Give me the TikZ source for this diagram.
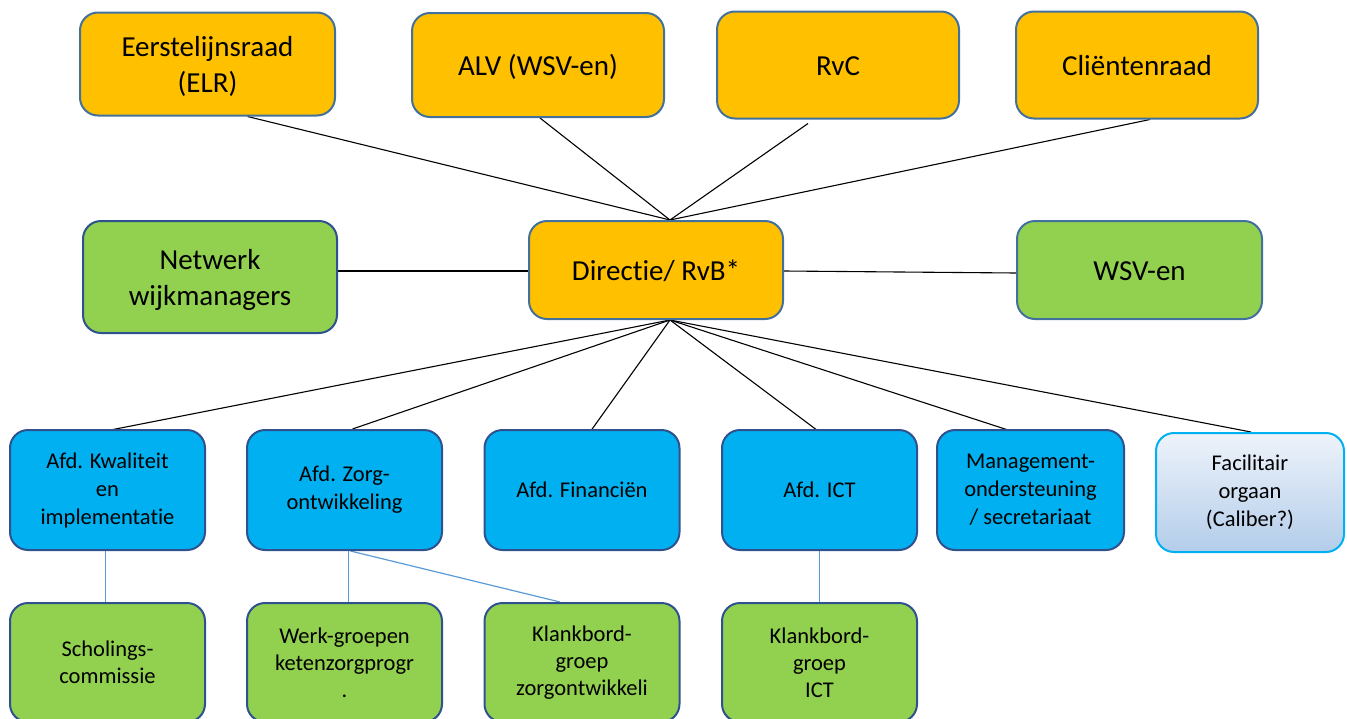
\documentclass[tikz,border=0pt]{standalone}
\usepackage{fontspec}
\setmainfont{Carlito}[Ligatures=NoCommon]
\usetikzlibrary{calc,backgrounds}
\definecolor{orangefill}{HTML}{FFC000}
\definecolor{greenfill}{HTML}{92D050}
\definecolor{bluefill}{HTML}{00B0F0}
\definecolor{edgeA}{HTML}{41719C}
\definecolor{edgeB}{HTML}{2F528F}
\definecolor{edgeC}{HTML}{00B0F0}
\definecolor{fadetop}{HTML}{EEF3FA}
\definecolor{fadebot}{HTML}{B3CDEA}
\definecolor{sublink}{HTML}{5B9BD5}
\newcommand\lowertext[1]{\raisebox{-3pt}[\height][\depth]{\begin{tabular}{@{}c@{}}#1\end{tabular}}}
\tikzset{
  box/.style={rectangle, rounded corners=18pt, line width=2pt, inner sep=0pt, align=center, text=black},
  bigtext/.style={font=\fontsize{29}{36}\selectfont},
  smalltext/.style={font=\fontsize{22.5}{28}\selectfont},
  subtext/.style={font=\fontsize{22.5}{27}\selectfont},
  topbox/.style={box, bigtext, fill=orangefill, draw=edgeA},
  midgreen/.style={box, bigtext, fill=greenfill, draw=edgeB},
  deptbox/.style={box, smalltext, fill=bluefill, draw=edgeB, minimum width=195pt, minimum height=120pt},
  facbox/.style={box, smalltext, draw=edgeC, top color=fadetop, bottom color=fadebot, minimum width=188pt, minimum height=119pt},
  subbox/.style={box, subtext, fill=greenfill, draw=edgeB, minimum width=195pt, minimum height=119pt},
  link/.style={draw=black, line width=1.1pt},
  sublinkstyle/.style={draw=sublink, line width=1.2pt}
}
\begin{document}
\begin{tikzpicture}[x=1pt, y=-1pt]
\useasboundingbox (0,0) rectangle (1347,718);
% top row
\node[topbox, minimum width=255pt, minimum height=103pt] (elr) at (207.5,64) {\lowertext{Eerstelijnsraad\\(ELR)}};
\node[topbox, minimum width=252pt, minimum height=104pt] (alv) at (538,65) {\lowertext{ALV (WSV-en)}};
\node[topbox, minimum width=242pt, minimum height=107pt] (rvc) at (838,65) {\lowertext{RvC}};
\node[topbox, minimum width=242pt, minimum height=107pt] (clr) at (1137,65) {\lowertext{Cliëntenraad}};
% middle row
\node[midgreen, minimum width=254pt, minimum height=112pt] (nwm) at (210,277) {\lowertext{Netwerk\\wijkmanagers}};
\node[topbox, minimum width=254pt, minimum height=98pt] (dir) at (656,270) {\lowertext{Directie/ RvB*}};
\node[box, bigtext, fill=greenfill, draw=edgeA, minimum width=245pt, minimum height=98pt] (wsv) at (1139.5,270) {\lowertext{WSV-en}};
% department row
\node[deptbox] (kwa) at (107.5,490) {Afd. Kwaliteit\\en\\implementatie};
\node[deptbox] (zorg) at (344.5,490) {Afd. Zorg-\\ontwikkeling};
\node[deptbox] (fin) at (582,490) {Afd. Financiën};
\node[deptbox] (ict) at (819.5,490) {Afd. ICT};
\node[deptbox, minimum width=187pt] (mgt) at (1030.5,490) {Management-\\ondersteuning\\/ secretariaat};
\node[facbox] (fac) at (1250,492.5) {Facilitair\\orgaan\\(Caliber?)};
% sub row
\node[subbox] (sch) at (107.5,662.5) {Scholings-\\commissie};
\node[subbox] (werk) at (344.5,662.5) {Werk-groepen\\ketenzorgprogr\\.};
\node[subbox] (kbz) at (582,662.5) {Klankbord-\\groep\\zorgontwikkeli};
\node[subbox] (kbi) at (819.5,662.5) {Klankbord-\\groep\\ICT};
\begin{scope}[on background layer]
  % to top
  \draw[link] ($(dir.north)+(14,0)$) -- ($(elr.south)+(40,0)$);
  \draw[link] ($(dir.north)+(14,0)$) -- ($(alv.south)+(2,0)$);
  \draw[link] ($(dir.north)+(14,0)$) -- ($(rvc.south)+(-30,4)$);
  \draw[link] ($(dir.north)+(14,0)$) -- ($(clr.south)+(13,0)$);
  % sides
  \draw[link] (nwm.east |- 0,271) -- (dir.west |- 0,271);
  \draw[link] (dir.east |- 0,271) -- (wsv.west |- 0,273);
  % to departments
  \draw[link] ($(dir.south)+(14,0)$) -- ($(kwa.north)+(-2,2)$);
  \draw[link] ($(dir.south)+(14,0)$) -- ($(zorg.north)+(8,0)$);
  \draw[link] ($(dir.south)+(14,0)$) -- ($(fin.north)+(8,3)$);
  \draw[link] ($(dir.south)+(14,0)$) -- ($(ict.north)+(0,3)$);
  \draw[link] ($(dir.south)+(14,0)$) -- ($(mgt.north)+(-4,7)$);
  \draw[link] ($(dir.south)+(14,0)$) -- ($(fac.north)+(1,0)$);
  % sub links
  \draw[sublinkstyle] ($(kwa.south)+(-2,0)$) -- ($(sch.north)+(-2,0)$);
  \draw[sublinkstyle] ($(zorg.south)+(4,0)$) -- ($(werk.north)+(4,0)$);
  \draw[sublinkstyle] ($(zorg.south)+(6,0)$) -- ($(kbz.north)+(-22,0)$);
  \draw[sublinkstyle] (ict.south) -- (kbi.north);
\end{scope}
\end{tikzpicture}
\end{document}
